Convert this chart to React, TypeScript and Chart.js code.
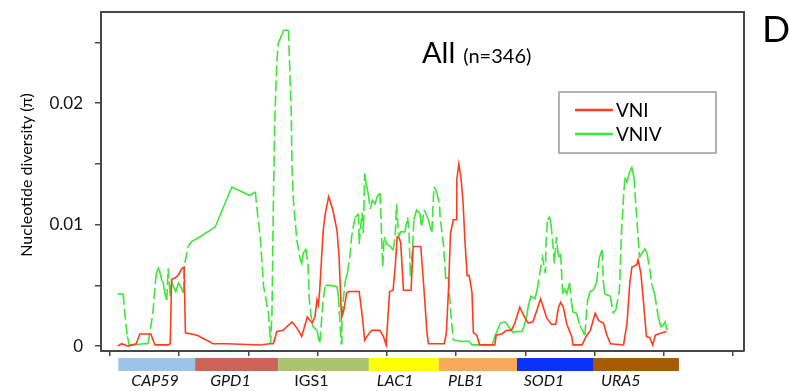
import React, { useEffect, useRef } from 'react';
import { Chart, registerables } from 'chart.js';

Chart.register(...registerables);

// ---- data (alignment position, nucleotide diversity π) ----
const vniPos = [11, 17, 26, 38, 43, 59, 65, 84, 87, 89, 94, 98, 104, 107, 109, 126, 149, 169, 217, 231, 236, 241, 250, 263, 270, 277, 285, 292, 296, 299, 301, 303, 308, 311, 316, 322, 328, 331, 334, 335, 338, 342, 345, 360, 364, 368, 370, 378, 390, 395, 399, 404, 409, 412, 415, 418, 420, 424, 435, 438, 449, 453, 458, 460, 483, 486, 489, 492, 496, 500, 501, 504, 507, 510, 513, 516, 519, 523, 525, 530, 534, 556, 558, 566, 573, 580, 585, 592, 598, 604, 611, 617, 622, 626, 631, 638, 644, 648, 651, 655, 660, 667, 669, 682, 688, 694, 701, 706, 713, 718, 723, 742, 747, 751, 754, 761, 763, 767, 771, 775, 780, 784, 788, 792, 804];
const vniPi = [0.0000, 0.0002, 0.0000, 0.0002, 0.0010, 0.0010, 0.0001, 0.0001, 0.0002, 0.0055, 0.0056, 0.0058, 0.0064, 0.0065, 0.0011, 0.0009, 0.0002, 0.0002, 0.0001, 0.0002, 0.0002, 0.0012, 0.0013, 0.0020, 0.0015, 0.0008, 0.0024, 0.0019, 0.0024, 0.0038, 0.0034, 0.0046, 0.0095, 0.0109, 0.0123, 0.0112, 0.0095, 0.0073, 0.0030, 0.0024, 0.0030, 0.0044, 0.0045, 0.0045, 0.0027, 0.0005, 0.0007, 0.0013, 0.0013, 0.0008, 0.0001, 0.0045, 0.0046, 0.0065, 0.0090, 0.0089, 0.0085, 0.0046, 0.0046, 0.0082, 0.0082, 0.0052, 0.0011, 0.0002, 0.0002, 0.0011, 0.0046, 0.0093, 0.0104, 0.0104, 0.0137, 0.0150, 0.0139, 0.0119, 0.0085, 0.0058, 0.0058, 0.0044, 0.0011, 0.0009, 0.0001, 0.0001, 0.0009, 0.0010, 0.0013, 0.0013, 0.0019, 0.0032, 0.0025, 0.0019, 0.0020, 0.0030, 0.0039, 0.0032, 0.0023, 0.0018, 0.0018, 0.0032, 0.0036, 0.0032, 0.0018, 0.0008, 0.0001, 0.0001, 0.0008, 0.0013, 0.0027, 0.0021, 0.0019, 0.0009, 0.0002, 0.0001, 0.0019, 0.0052, 0.0065, 0.0067, 0.0071, 0.0060, 0.0035, 0.0008, 0.0007, 0.0001, 0.0009, 0.0010, 0.0012];

const vnivPos = [11, 19, 22, 25, 28, 36, 48, 55, 58, 62, 65, 67, 70, 72, 75, 77, 79, 82, 84, 87, 89, 91, 95, 99, 102, 106, 108, 113, 118, 130, 152, 176, 202, 210, 212, 217, 222, 229, 232, 234, 236, 238, 241, 243, 251, 258, 259, 262, 263, 265, 270, 275, 277, 279, 283, 286, 288, 290, 293, 299, 303, 306, 308, 311, 318, 328, 330, 334, 335, 337, 340, 343, 347, 349, 354, 359, 360, 364, 366, 368, 370, 373, 376, 379, 383, 386, 390, 392, 394, 396, 400, 405, 409, 412, 414, 417, 420, 426, 430, 432, 434, 437, 439, 443, 448, 450, 454, 460, 465, 468, 472, 476, 477, 482, 484, 485, 489, 492, 496, 506, 518, 523, 552, 556, 564, 571, 576, 583, 585, 595, 598, 602, 604, 608, 614, 617, 621, 625, 629, 630, 632, 635, 637, 640, 642, 645, 648, 651, 654, 657, 660, 664, 667, 669, 674, 679, 686, 690, 694, 698, 703, 707, 711, 713, 715, 723, 727, 731, 736, 739, 742, 744, 747, 750, 754, 757, 761, 765, 768, 773, 776, 780, 783, 787, 792, 796, 799, 802, 805];
const vnivPi = [0.0043, 0.0043, 0.0024, 0.0008, 0.0001, 0.0001, 0.0002, 0.0002, 0.0013, 0.0027, 0.0049, 0.0060, 0.0064, 0.0061, 0.0054, 0.0052, 0.0044, 0.0038, 0.0064, 0.0041, 0.0054, 0.0050, 0.0045, 0.0052, 0.0049, 0.0044, 0.0068, 0.0082, 0.0086, 0.0090, 0.0098, 0.0131, 0.0124, 0.0127, 0.0115, 0.0090, 0.0049, 0.0027, 0.0002, 0.0027, 0.0115, 0.0186, 0.0233, 0.0249, 0.0260, 0.0260, 0.0241, 0.0189, 0.0147, 0.0120, 0.0087, 0.0071, 0.0068, 0.0076, 0.0080, 0.0068, 0.0038, 0.0027, 0.0016, 0.0013, 0.0002, 0.0024, 0.0038, 0.0050, 0.0050, 0.0049, 0.0041, 0.0002, 0.0019, 0.0038, 0.0054, 0.0060, 0.0076, 0.0090, 0.0106, 0.0109, 0.0084, 0.0110, 0.0093, 0.0142, 0.0134, 0.0126, 0.0113, 0.0120, 0.0117, 0.0123, 0.0126, 0.0098, 0.0065, 0.0090, 0.0084, 0.0082, 0.0079, 0.0090, 0.0117, 0.0090, 0.0094, 0.0094, 0.0106, 0.0095, 0.0057, 0.0079, 0.0104, 0.0112, 0.0109, 0.0098, 0.0112, 0.0104, 0.0093, 0.0131, 0.0127, 0.0117, 0.0106, 0.0082, 0.0065, 0.0056, 0.0056, 0.0030, 0.0005, 0.0004, 0.0004, 0.0001, 0.0001, 0.0008, 0.0019, 0.0020, 0.0016, 0.0011, 0.0012, 0.0012, 0.0016, 0.0024, 0.0032, 0.0041, 0.0039, 0.0046, 0.0060, 0.0073, 0.0060, 0.0084, 0.0104, 0.0106, 0.0101, 0.0084, 0.0068, 0.0090, 0.0073, 0.0076, 0.0043, 0.0047, 0.0043, 0.0052, 0.0035, 0.0028, 0.0027, 0.0017, 0.0009, 0.0038, 0.0045, 0.0046, 0.0052, 0.0073, 0.0079, 0.0052, 0.0043, 0.0041, 0.0027, 0.0030, 0.0046, 0.0093, 0.0123, 0.0139, 0.0135, 0.0142, 0.0147, 0.0139, 0.0106, 0.0073, 0.0076, 0.0080, 0.0076, 0.0063, 0.0050, 0.0043, 0.0024, 0.0016, 0.0017, 0.0020, 0.0013];

const seriesLabels = ['VNI', 'VNIV'];
const seriesColors = ['#ff3c1e', '#3ee63a'];

const geneNames = ['CAP59', 'GPD1', 'IGS1', 'LAC1', 'PLB1', 'SOD1', 'URA5'];
const geneStart = [12, 123, 243, 374, 475, 588, 699];
const geneEnd = [123, 243, 374, 475, 588, 699, 822];
const geneLabelPos = [65, 174, 291, 412, 514, 627, 738];
const geneItalic = [true, true, false, true, true, true, true];
const geneColors = ['#9dc3e6', '#cd645a', '#a9c46c', '#ffff00', '#f8a95a', '#0a33fa', '#a95b04'];

const xTicks = [0, 100, 200, 300, 400, 500, 600, 700, 800, 900];
const yTicks = [0, 0.005, 0.01, 0.015, 0.02, 0.025];
const yLabelled = [0, 0.01, 0.02];

const titleMain = 'All';
const titleSub = '(n=346)';
const panelLetter = 'D';
const yTitle = 'Nucleotide diversity (π)';

const FONT = 'Lato, "Liberation Sans", sans-serif';

const extras = {
  id: 'extras',
  afterDraw(chart: any) {
    const { ctx, chartArea: a, scales } = chart;
    const x = scales.x;
    ctx.save();
    // frame (top + right)
    ctx.strokeStyle = '#474747';
    ctx.lineWidth = 2;
    ctx.beginPath();
    ctx.moveTo(a.left, a.top);
    ctx.lineTo(a.right, a.top);
    ctx.lineTo(a.right, a.bottom);
    ctx.stroke();

    // gene bars
    for (let i = 0; i < geneNames.length; i++) {
      const x0 = x.getPixelForValue(geneStart[i]);
      const x1 = x.getPixelForValue(geneEnd[i]);
      ctx.fillStyle = geneColors[i];
      ctx.fillRect(x0, a.bottom + 7, x1 - x0, 13);
      ctx.fillStyle = '#111';
      ctx.font = (geneItalic[i] ? 'italic ' : '') + '16px ' + FONT;
      ctx.textAlign = 'center';
      ctx.textBaseline = 'alphabetic';
      ctx.fillText(geneNames[i], x.getPixelForValue(geneLabelPos[i]), a.bottom + 35);
    }

    // title
    ctx.fillStyle = '#000';
    ctx.textAlign = 'left';
    ctx.font = '29px ' + FONT;
    ctx.fillText(titleMain, 422, 63);
    const w = ctx.measureText(titleMain).width;
    ctx.font = '20px ' + FONT;
    ctx.fillText(titleSub, 422 + w + 8, 63);

    // panel letter
    ctx.font = '37px ' + FONT;
    ctx.fillText(panelLetter, 762, 42);

    // y title
    ctx.save();
    ctx.translate(27, 175);
    ctx.rotate(-Math.PI / 2);
    ctx.textAlign = 'center';
    ctx.textBaseline = 'middle';
    ctx.font = '16px ' + FONT;
    ctx.fillStyle = '#000';
    ctx.fillText(yTitle, 0, 0);
    ctx.restore();

    // legend
    ctx.fillStyle = '#fff';
    ctx.fillRect(559, 92, 157, 61);
    ctx.strokeStyle = '#999';
    ctx.lineWidth = 1.5;
    ctx.strokeRect(559, 92, 157, 61);
    ctx.font = '19px ' + FONT;
    ctx.textBaseline = 'middle';
    chart.data.datasets.forEach((ds: any, i: number) => {
      const yy = 110 + i * 24;
      ctx.strokeStyle = ds.borderColor;
      ctx.lineWidth = 2.5;
      ctx.beginPath();
      ctx.moveTo(575, yy);
      ctx.lineTo(613, yy);
      ctx.stroke();
      ctx.fillStyle = '#000';
      ctx.fillText(ds.label, 616, yy + 1);
    });
    ctx.restore();
  },
};

export default function App() {
  const ref = useRef<HTMLCanvasElement>(null);
  useEffect(() => {
    if (!ref.current) return;
    const steep = (c: any) => {
      const dx = Math.abs(c.p1.x - c.p0.x);
      const dy = Math.abs(c.p1.y - c.p0.y);
      return dy > 12 && dy > 2.5 * dx;
    };
    const chart = new Chart(ref.current, {
      type: 'line',
      data: {
        datasets: [
          {
            label: seriesLabels[0],
            data: vniPos.map((p, i) => ({ x: p, y: vniPi[i] })),
            borderColor: seriesColors[0],
            borderWidth: 1.6,
            pointRadius: 0,
            tension: 0,
          },
          {
            label: seriesLabels[1],
            data: vnivPos.map((p, i) => ({ x: p, y: vnivPi[i] })),
            borderColor: seriesColors[1],
            borderWidth: 1.6,
            pointRadius: 0,
            tension: 0,
            segment: {
              borderDash: (c: any) => (steep(c) ? [11, 4] : undefined),
            },
          },
        ],
      },
      options: {
        animation: false,
        responsive: false,
        font: { family: FONT },
        layout: { padding: { left: 0, top: 12, right: 46, bottom: 0 } },
        plugins: { legend: { display: false }, tooltip: { enabled: false } },
        scales: {
          x: {
            type: 'linear',
            min: -13,
            max: 916,
            afterBuildTicks: (s: any) => {
              s.ticks = xTicks.map((v) => ({ value: v }));
            },
            afterFit: (s: any) => {
              s.height = 40;
              s.paddingLeft = 0;
              s.paddingRight = 0;
            },
            ticks: { display: false },
            grid: { drawOnChartArea: false, drawTicks: true, tickLength: 5, color: '#474747', lineWidth: 1.5 },
            border: { color: '#474747', width: 2 },
          },
          y: {
            type: 'linear',
            min: -0.0004,
            max: 0.0275,
            afterBuildTicks: (s: any) => {
              s.ticks = yTicks.map((v) => ({ value: v }));
            },
            afterFit: (s: any) => {
              s.width = 101;
              s.paddingTop = 0;
              s.paddingBottom = 0;
            },
            ticks: {
              padding: 12,
              color: '#111',
              font: { family: FONT, size: 17 },
              callback: (v: any) => {
                const r = Math.round(Number(v) * 10000) / 10000;
                return yLabelled.includes(r) ? String(r) : '';
              },
            },
            grid: { drawOnChartArea: false, drawTicks: true, tickLength: 6, color: '#474747', lineWidth: 1.5 },
            border: { color: '#474747', width: 2 },
          },
        },
      },
      plugins: [extras],
    });
    return () => chart.destroy();
  }, []);
  return (
    <div style={{ position: 'absolute', left: 0, top: 0, width: 790, height: 391, background: '#fff' }}>
      <canvas ref={ref} width={790} height={391} style={{ width: 790, height: 391 }} />
    </div>
  );
}
